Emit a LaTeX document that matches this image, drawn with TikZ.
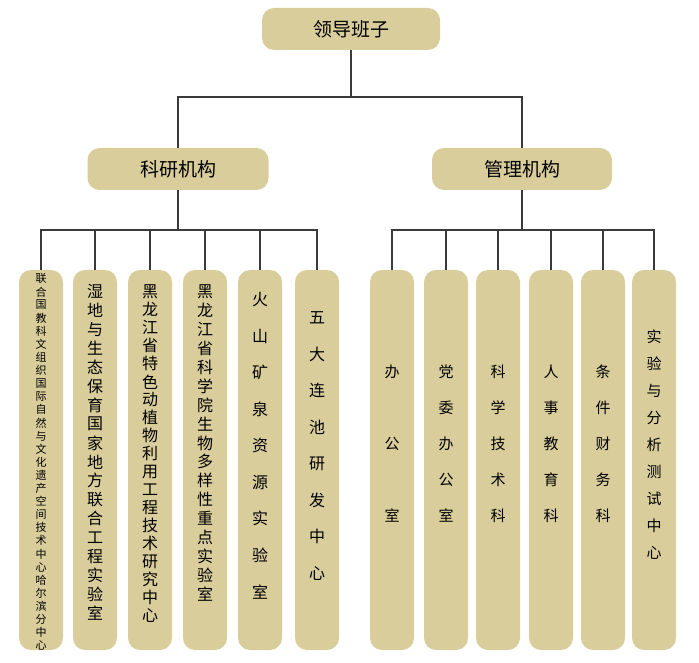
\documentclass[tikz,border=0pt]{standalone}
\usepackage{fontspec}
\newfontfamily\cjk{Noto Sans CJK SC}
\definecolor{boxfill}{HTML}{D9CD9B}
\definecolor{linec}{HTML}{3A3A3A}
\begin{document}
\begin{tikzpicture}[x=1pt,y=-1pt,
  hbox/.style={fill=boxfill,rounded corners=12pt,minimum height=42pt,inner sep=0pt,font=\cjk\fontsize{19}{19}\selectfont},
  vbox/.style={fill=boxfill,rounded corners=12pt,minimum width=44pt,minimum height=380pt,inner sep=0pt},
  conn/.style={draw=linec,line width=1.4pt}]
\useasboundingbox (0,0) rectangle (699,663);
\node[hbox,minimum width=178pt] (top) at (351,29) {领导班子};
\node[hbox,minimum width=181pt] (ky) at (178,169) {科研机构};
\node[hbox,minimum width=180pt] (gl) at (522,169) {管理机构};
\coordinate (tj) at (351,97);
\draw[conn] (top.south) -- (tj) -| (ky.north);
\draw[conn] (tj) -| (gl.north);
\foreach \i/\x in {1/41,2/95,3/150,4/205,5/260,6/317}{
  \node[vbox] (L\i) at (\x,460) {};
  \draw[conn] (ky.south) -- (178,230) -| (L\i.north);
}
\foreach \i/\x in {1/392,2/446,3/498,4/551,5/603,6/654}{
  \node[vbox] (R\i) at (\x,460) {};
  \draw[conn] (gl.south) -- (522,230) -| (R\i.north);
}
\newcommand{\vt}[5]{%
  \foreach \c [count=\k from 0] in {#5}{
    \path (#1.north) ++(0,#2+#3*\k) node[font=\cjk\fontsize{#4}{#4}\selectfont,inner sep=0pt] {\c};
  }}
\vt{L1}{9}{13.1}{11}{联,合,国,教,科,文,组,织,国,际,自,然,与,文,化,遗,产,空,间,技,术,中,心,哈,尔,滨,分,中,心}
\vt{L2}{22}{18.9}{16}{湿,地,与,生,态,保,育,国,家,地,方,联,合,工,程,实,验,室}
\vt{L3}{22}{18}{16}{黑,龙,江,省,特,色,动,植,物,利,用,工,程,技,术,研,究,中,心}
\vt{L4}{22}{18.9}{16}{黑,龙,江,省,科,学,院,生,物,多,样,性,重,点,实,验,室}
\vt{L5}{30}{36.5}{16}{火,山,矿,泉,资,源,实,验,室}
\vt{L6}{48}{36.5}{16}{五,大,连,池,研,发,中,心}
\vt{R1}{102}{72}{15}{办,公,室}
\vt{R2}{102}{36}{15}{党,委,办,公,室}
\vt{R3}{102}{36}{15}{科,学,技,术,科}
\vt{R4}{102}{36}{15}{人,事,教,育,科}
\vt{R5}{102}{36}{15}{条,件,财,务,科}
\vt{R6}{67}{27}{15}{实,验,与,分,析,测,试,中,心}
\end{tikzpicture}
\end{document}
